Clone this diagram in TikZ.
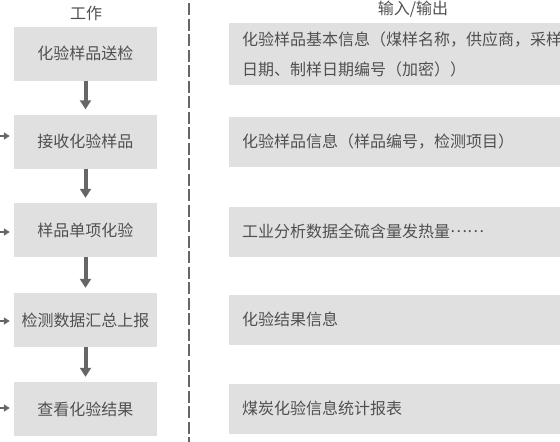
\documentclass[tikz,border=0pt]{standalone}
\usepackage{fontspec}
\newfontfamily\cjk{Noto Sans CJK SC}
\usepackage{xcolor}
\usetikzlibrary{arrows.meta}
\definecolor{boxgray}{HTML}{E0E0E0}
\definecolor{txtgray}{HTML}{505050}
\definecolor{arrgray}{HTML}{666666}

\begin{document}
\begin{tikzpicture}[x=1pt, y=-1pt,
  every node/.style={font=\cjk\fontsize{16}{30}\selectfont, text=txtgray},
  workbox/.style={fill=boxgray, minimum width=143pt, minimum height=54pt, inner sep=0pt},
  iobox/.style={fill=boxgray, anchor=west, minimum width=360pt, minimum height=50pt,
    inner xsep=13pt, inner ysep=0pt, text width=334pt, align=left},
  flowarrow/.style={arrgray, line width=4pt, -{Triangle[width=11pt,length=9pt]}, shorten >=5pt},
  feedarrow/.style={arrgray, line width=2pt, -{Triangle[width=7pt,length=6pt]}, shorten >=4pt},
  divider/.style={arrgray, line width=2.3pt, dash pattern=on 12pt off 3.5pt}]
\useasboundingbox (0,0) rectangle (560,442);
\clip (0,0) rectangle (560,442);

\node (worktitle) at (86,13) {工作};
\node (iotitle) at (413,9) {输入/输出};

\node[workbox] (w1) at (85.5,53.5) {化验样品送检};
\node[workbox] (w2) at (85.5,141.5) {接收化验样品};
\node[workbox] (w3) at (85.5,230) {样品单项化验};
\node[workbox] (w4) at (85.5,320) {检测数据汇总上报};
\node[workbox] (w5) at (85.5,409) {查看化验结果};

\node[iobox, minimum height=62pt] (r1) at (229,54)
  {化验样品基本信息（煤样名称，供应商，采样\\日期、制样日期编号（加密））};
\node[iobox] (r2) at (229,142) {化验样品信息（样品编号，检测项目）};
\node[iobox] (r3) at (229,231.5) {工业分析数据全硫含量发热量\raisebox{0.3em}{……}};
\node[iobox] (r4) at (229,319.5) {化验结果信息};
\node[iobox] (r5) at (229,408.5) {煤炭化验信息统计报表};

\coordinate (divtop) at (189,3);
\coordinate (divbot) at (189,442);
\draw[divider] (divtop) -- (divbot);

\foreach \a/\b in {w1/w2, w2/w3, w3/w4, w4/w5}{
    \draw[flowarrow] (\a) -- (\b);
}
\foreach \i/\y in {2/136, 3/232, 4/321, 5/408}{
    \coordinate (f\i) at (-20,\y);
    \draw[feedarrow] (f\i) -- (w\i.west |- f\i);
}
\end{tikzpicture}
\end{document}
